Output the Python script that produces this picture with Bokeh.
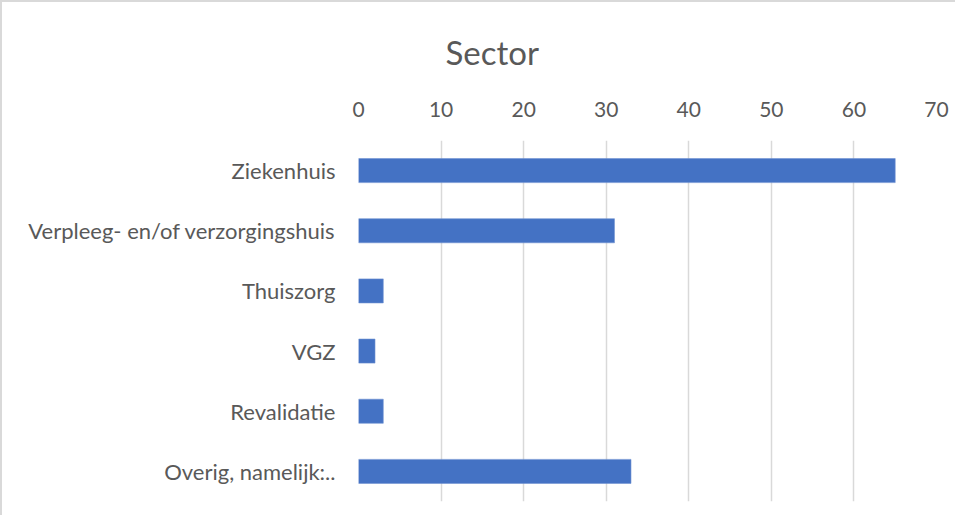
from bokeh.plotting import figure
from bokeh.models import FactorRange, Range1d, FixedTicker
from bokeh.embed import file_html
from bokeh.resources import INLINE

categories = ["Ziekenhuis", "Verpleeg- en/of verzorgingshuis", "Thuiszorg", "VGZ", "Revalidatie", "Overig, namelijk:.."]
counts = [65, 31, 3, 2, 3, 33]
ticks = [0, 10, 20, 30, 40, 50, 60, 70]

FONT = "Lato"
TXT = "#595959"

p = figure(width=955, height=515, output_backend="svg", toolbar_location=None,
           y_range=FactorRange(factors=list(reversed(categories))),
           x_range=Range1d(0, 70), x_axis_location="above",
           min_border_left=356, min_border_right=21, min_border_top=130, min_border_bottom=16)
p.styles = {"border-top": "2px solid #d9d9d9", "border-left": "2px solid #d9d9d9"}

p.title.text = "Sector"
p.title.text_font = FONT
p.title.text_font_size = "33px"
p.title.text_font_style = "normal"
p.title.text_color = TXT
p.title.align = "left"
p.title.offset = 87
p.title.standoff = 54

p.hbar(y=categories, right=counts, height=0.4, left=0, fill_color="#4472c4", line_color="#6e92d2", line_width=0.6)

p.outline_line_color = None
p.ygrid.grid_line_color = None
p.xgrid.grid_line_color = "#d9d9d9"
p.xgrid.grid_line_width = 1.5
p.xgrid.ticker = FixedTicker(ticks=ticks)

xa = p.xaxis[0]
xa.ticker = FixedTicker(ticks=ticks)
xa.axis_line_color = None
xa.major_tick_line_color = None
xa.minor_tick_line_color = None
xa.major_label_text_font = FONT
xa.major_label_text_font_size = "21px"
xa.major_label_text_color = TXT
xa.major_label_standoff = 18

ya = p.yaxis[0]
ya.axis_line_color = None
ya.major_tick_line_color = None
ya.minor_tick_line_color = None
ya.major_label_text_font = FONT
ya.major_label_text_font_size = "22px"
ya.major_label_text_color = TXT
ya.major_label_standoff = 17

open("out.html", "w").write(file_html(p, INLINE))
